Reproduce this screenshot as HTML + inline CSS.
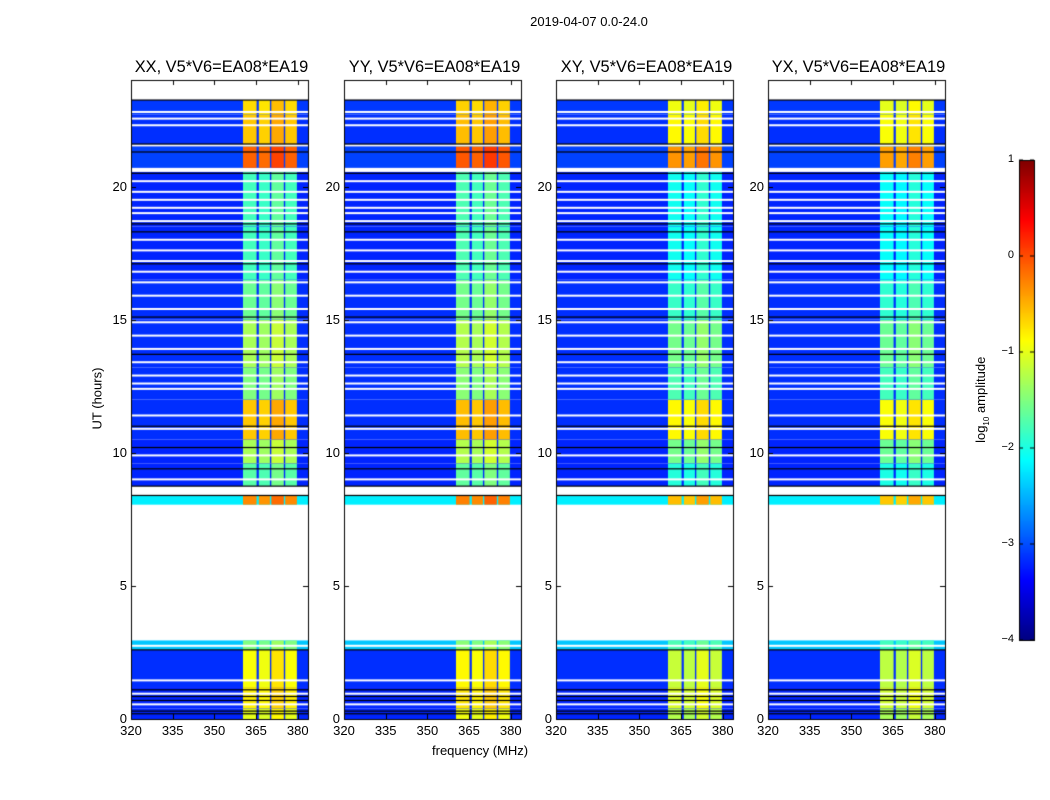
<!DOCTYPE html>
<html><head><meta charset="utf-8">
<style>
body{margin:0;background:#fff;}
#wrap{position:relative;width:1050px;height:800px;background:#fff;font-family:"Liberation Sans",sans-serif;color:#000;}
canvas{position:absolute;left:0;top:0;}
.t{position:absolute;white-space:nowrap;}
.c{transform:translateX(-50%);}
</style></head><body>
<div id="wrap">
<canvas id="cv" width="1050" height="800"></canvas>
<div class="t c" style="left:589px;top:14px;font-size:13px">2019-04-07 0.0-24.0</div>
<div class="t" style="left:432px;top:743px;font-size:13px">frequency (MHz)</div>
<div class="t" style="left:62px;top:391px;font-size:13px;transform:rotate(-90deg);width:70px;text-align:center">UT (hours)</div>
<div class="t" style="left:932px;top:391px;font-size:13px;transform:rotate(-90deg);width:100px;text-align:center">log<sub style="font-size:8px">10</sub> amplitude</div>
<div id="labels"></div>
</div>
<script>
const panelTitles = ["XX, V5*V6=EA08*EA19","YY, V5*V6=EA08*EA19","XY, V5*V6=EA08*EA19","YX, V5*V6=EA08*EA19"];
const panelOffsets = [0, 0.05, -0.25, -0.3];
const xTicks = [320,335,350,365,380];
const yTicks = [0,5,10,15,20];
const cbTicks = [1,0,-1,-2,-3,-4];
const cbTickLabels = ["1","0","\u22121","\u22122","\u22123","\u22124"];
// time blocks: start hour, end hour, background level, band level
const blockStart = [0.0,0.4,1.2,2.6,8.05,8.75,9.6,10.5,12.0,13.2,15.0,16.5,18.5,20.7,21.5,22.7];
const blockEnd   = [0.4,1.2,2.6,2.95,8.4,9.6,10.5,12.0,13.2,15.0,16.5,18.5,20.55,21.5,22.7,23.25];
const blockBg    = [-3.2,-3.2,-3.15,-2.4,-2.2,-3.2,-3.2,-3.15,-3.15,-3.15,-3.15,-3.2,-3.2,-3.05,-3.15,-3.1];
const blockBand  = [-1.0,-0.8,-0.9,-1.5,-0.3,-1.7,-1.3,-0.6,-1.5,-1.3,-1.6,-1.8,-1.8,-0.1,-0.6,-0.7];
// RFI band channel ranges (MHz) and relative offsets
const bandLo = [360.3,366.0,370.5,375.5];
const bandHi = [365.2,370.0,375.0,379.7];
const bandOff = [0.0,-0.05,0.15,0.0];
// flagged (white) and dead (black) rows, hours
const whiteRows = [0.55,0.95,1.45,2.75,9.0,9.9,10.9,11.4,12.4,12.6,12.9,13.4,13.9,14.4,14.9,15.4,15.9,16.4,16.8,17.2,17.6,18.0,18.7,19.0,19.2,19.5,19.8,20.2,20.6,21.55,22.3,22.55,22.8];
const blackRows = [0.2,0.3,0.7,0.85,1.1,2.6,8.4,8.75,9.4,10.2,11.0,13.7,15.1,17.1,18.3,18.6,20.5,21.3,21.6,23.25];

const panelX = [131,344,556,768];
const PW = 177, PT = 80, PB = 719;
const F0 = 320, F1 = 383.7, H0 = 0, H1 = 24;

function jet(v){
  let t=(v+4)/5; t=Math.max(0,Math.min(1,t));
  const c=x=>Math.round(255*Math.max(0,Math.min(1,x)));
  return `rgb(${c(1.5-Math.abs(4*t-3))},${c(1.5-Math.abs(4*t-2))},${c(1.5-Math.abs(4*t-1))})`;
}
const cv=document.getElementById('cv');
const ctx=cv.getContext('2d');
const labels=document.getElementById('labels');
function addLabel(txt,x,y,align,size,name){
  const d=document.createElement('div');
  d.className='t';d.textContent=txt;
  
  
  d.style.fontSize=size+'px';
  d.style.top=(y-size*0.6)+'px';
  if(align==='right'){d.style.right=(1050-x)+'px';}
  else if(align==='center'){d.style.left=x+'px';d.style.transform='translateX(-50%)';}
  else d.style.left=x+'px';
  labels.appendChild(d);
}
panelTitles.forEach((title,p)=>{
  const x0=panelX[p];
  const xs=f=>x0+(f-F0)/(F1-F0)*PW;
  const ys=h=>PB-(h-H0)/(H1-H0)*(PB-PT);
  for(let i=0;i<blockStart.length;i++){
    const yA=ys(blockEnd[i]), yB=ys(blockStart[i]);
    ctx.fillStyle=jet(blockBg[i]);
    ctx.fillRect(x0,yA,PW,yB-yA);
    for(let b=0;b<bandLo.length;b++){
      ctx.fillStyle=jet(blockBand[i]+bandOff[b]+panelOffsets[p]);
      ctx.fillRect(xs(bandLo[b]),yA,xs(bandHi[b])-xs(bandLo[b]),yB-yA);
    }
  }
  whiteRows.forEach(h=>{ctx.fillStyle='#fff';ctx.fillRect(x0,ys(h)-1,PW,2);});
  blackRows.forEach(h=>{ctx.fillStyle='#000';ctx.fillRect(x0,ys(h)-0.5,PW,1.2);});
  ctx.strokeStyle='#000';ctx.lineWidth=1;
  ctx.strokeRect(x0+0.5,PT+0.5,PW,PB-PT);
  xTicks.forEach(t=>{const x=Math.round(xs(t))+0.5;ctx.beginPath();ctx.moveTo(x,PB);ctx.lineTo(x,PB-5);ctx.moveTo(x,PT);ctx.lineTo(x,PT+5);ctx.stroke();
    addLabel(String(t),xs(t),PB+12,'center',13,'x-tick-label');});
  yTicks.forEach(t=>{const y=Math.round(ys(t))+0.5;ctx.beginPath();ctx.moveTo(x0,y);ctx.lineTo(x0+5,y);ctx.moveTo(x0+PW,y);ctx.lineTo(x0+PW-5,y);ctx.stroke();
    addLabel(String(t),x0-4,ys(t),'right',13,'y-tick-label');});
  addLabel(title,x0+PW/2+2,68,'center',16.4,'panel-title');
});
// colorbar
const cbX=1019,cbW=15,cbT=160,cbB=640;
for(let y=cbT;y<cbB;y++){const v=1-(y-cbT)/(cbB-cbT)*5;ctx.fillStyle=jet(v);ctx.fillRect(cbX,y,cbW,1);}
ctx.strokeStyle='#000';ctx.strokeRect(cbX+0.5,cbT+0.5,cbW,cbB-cbT);
cbTicks.forEach((t,i)=>{const y=cbT+(1-t)/5*(cbB-cbT);ctx.beginPath();ctx.moveTo(cbX,y);ctx.lineTo(cbX+4,y);ctx.moveTo(cbX+cbW,y);ctx.lineTo(cbX+cbW-4,y);ctx.stroke();
  addLabel(cbTickLabels[i],1014,y,'right',11,'colorbar-tick-label');});
</script>
</body></html>
